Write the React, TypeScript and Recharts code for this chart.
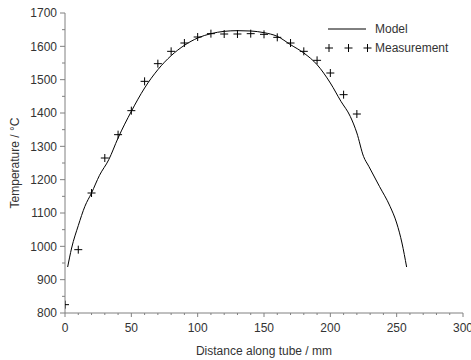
import React from "react";
import { ComposedChart, Line, Scatter, XAxis, YAxis, Legend } from "recharts";

// model curve (distance mm -> temperature °C)
const MODEL_X = [2, 5, 10, 15, 20, 26, 33, 40, 50, 60, 70, 80, 90, 100, 110, 120, 130, 140, 150, 160, 170, 180, 190, 200, 208, 215, 220, 225, 229, 237, 245, 250, 254, 257.5];
const MODEL_T = [938, 995, 1062, 1120, 1160, 1213, 1260, 1325, 1405, 1475, 1530, 1572, 1603, 1625, 1638, 1645, 1647, 1646, 1641, 1630, 1605, 1580, 1545, 1490, 1435, 1390, 1340, 1270, 1240, 1180, 1120, 1070, 1010, 938];

// measured points
const MEAS_X = [0, 10, 20, 30, 40, 50, 60, 70, 80, 90, 100, 110, 120, 130, 140, 150, 160, 170, 180, 190, 200, 210, 220];
const MEAS_T = [825, 990, 1160, 1265, 1335, 1407, 1495, 1548, 1585, 1610, 1628, 1638, 1637, 1637, 1638, 1636, 1627, 1610, 1585, 1558, 1520, 1455, 1397];

const X_TICKS = Array.from({ length: 31 }, (_, i) => i * 10);
const Y_TICKS = Array.from({ length: 19 }, (_, i) => 800 + i * 50);

const model = MODEL_X.map((x, i) => ({ x, t: MODEL_T[i] }));
const meas = MEAS_X.map((x, i) => ({ x, t: MEAS_T[i] }));

const AXIS = "#808080";
const TEXT = "#333";
const FONT = "'Liberation Sans', Arial, sans-serif";

const XTick = (props: any) => {
  const { x, y, payload } = props;
  const major = payload.value % 50 === 0;
  return (
    <g>
      <line x1={x} x2={x} y1={y} y2={y + (major ? 4 : 2)} stroke={AXIS} />
      {major && (
        <text x={x} y={y + 19} textAnchor="middle" fill={TEXT} fontSize={12} fontFamily={FONT}>
          {payload.value}
        </text>
      )}
    </g>
  );
};

const YTick = (props: any) => {
  const { x, y, payload } = props;
  const major = payload.value % 100 === 0;
  return (
    <g>
      <line x1={x} x2={x - (major ? 5 : 3)} y1={y} y2={y} stroke={AXIS} />
      {major && (
        <text x={x - 8} y={y + 4.3} textAnchor="end" fill={TEXT} fontSize={12} fontFamily={FONT}>
          {payload.value}
        </text>
      )}
    </g>
  );
};

const Plus = (props: any) => {
  const { cx, cy } = props;
  return <path d={`M${cx - 4},${cy}H${cx + 4}M${cx},${cy - 4}V${cy + 4}`} stroke="#000" strokeWidth={1} fill="none" />;
};

const XTitle = (props: any) => {
  const { viewBox } = props;
  return (
    <text x={viewBox.x + viewBox.width / 2} y={viewBox.y + 42} textAnchor="middle" fill={TEXT} fontSize={12} fontFamily={FONT}>
      Distance along tube / mm
    </text>
  );
};

const YTitle = (props: any) => {
  const { viewBox } = props;
  const cx = 19;
  const cy = viewBox.y + viewBox.height / 2;
  return (
    <text x={cx} y={cy} transform={`rotate(-90 ${cx} ${cy})`} textAnchor="middle" fill={TEXT} fontSize={12} fontFamily={FONT}>
      Temperature / °C
    </text>
  );
};

const LegendBox = () => (
  <svg width={140} height={38} style={{ display: "block", overflow: "visible" }}>
    <line x1={7} y1={8} x2={45} y2={8} stroke="#000" />
    <text x={54} y={12.3} fill={TEXT} fontSize={12} fontFamily={FONT}>Model</text>
    {[8, 27.5, 46.5].map((px) => (
      <path key={px} d={`M${px - 4},27H${px + 4}M${px},23V31`} stroke="#000" />
    ))}
    <text x={54} y={31.3} fill={TEXT} fontSize={12} fontFamily={FONT}>Measurement</text>
  </svg>
);

export default function App() {
  return (
    <div style={{ position: "absolute", left: 0, top: 0, background: "#fff" }}>
      <ComposedChart width={471} height={360} margin={{ top: 13, right: 8, bottom: 0, left: 0 }} style={{ fontFamily: FONT }}>
        <XAxis
          type="number"
          dataKey="x"
          domain={[0, 300]}
          ticks={X_TICKS}
          interval={0}
          tick={<XTick />}
          tickLine={false}
          tickSize={0}
          tickMargin={0}
          height={47}
          stroke={AXIS}
          allowDataOverflow
          label={<XTitle />}
        />
        <YAxis
          type="number"
          dataKey="t"
          domain={[800, 1700]}
          ticks={Y_TICKS}
          interval={0}
          tick={<YTick />}
          tickLine={false}
          tickSize={0}
          tickMargin={0}
          width={65}
          stroke={AXIS}
          allowDataOverflow
          label={<YTitle />}
        />
        <Legend
          layout="horizontal"
          verticalAlign="middle"
          align="center"
          content={<LegendBox />}
          wrapperStyle={{ left: 321, top: 21, width: 140, height: 38 }}
        />
        <Line data={model} dataKey="t" type="monotone" stroke="#000" strokeWidth={1} dot={false} isAnimationActive={false} />
        <Scatter data={meas} dataKey="t" shape={<Plus />} isAnimationActive={false} />
      </ComposedChart>
    </div>
  );
}
